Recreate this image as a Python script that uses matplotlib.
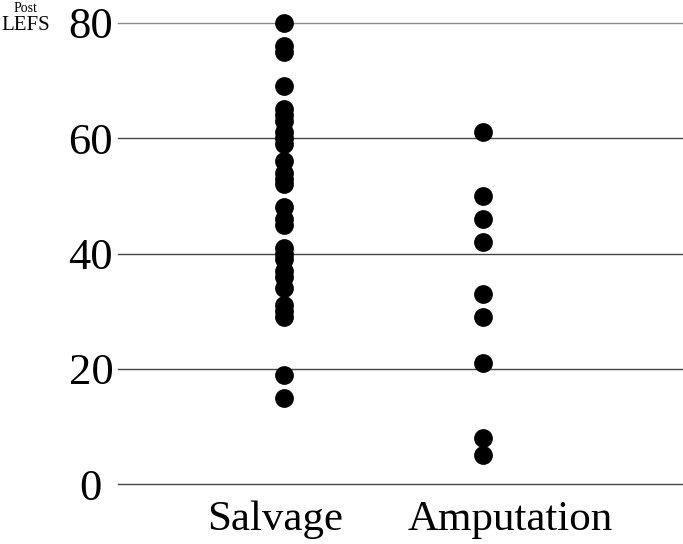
import numpy as np
import matplotlib.pyplot as plt
import matplotlib.transforms as mtransforms

groups = ['Salvage', 'Amputation']
salvage = [80, 76, 75, 69, 65, 64, 63, 61, 60, 59, 56, 54, 53, 52,
           48, 46, 45, 41, 40, 39, 37, 36, 34, 31, 30, 29, 19, 15]
amputation = [61, 50, 46, 42, 33, 29, 21, 8, 5]
yticks = [0, 20, 40, 60, 80]

plt.rcParams['font.family'] = ['Liberation Serif', 'DejaVu Serif']

fig = plt.figure(figsize=(6.83, 5.44), dpi=100)
ax = fig.add_axes([118 / 683, 60 / 544, 564 / 683, 461 / 544])

for i, vals in enumerate([salvage, amputation]):
    ax.plot(np.full(len(vals), i + 1), vals, 'o', color='black',
            markersize=12.5, clip_on=False, zorder=3)

ax.set_ylim(0, 80)
ax.set_xlim(0.165, 3.0)
ax.set_yticks(yticks)
ax.set_yticklabels([str(v) for v in yticks], fontsize=32)
ax.set_xticks([1, 2])
ax.set_xticklabels(groups, fontsize=31)
ax.tick_params(length=0)
ax.tick_params(axis='y', pad=19.5)
ax.tick_params(axis='x', pad=12)
for lab in ax.get_yticklabels():
    lab.set_horizontalalignment('center')
for lab, dx in zip(ax.get_xticklabels(), [-9, 27]):
    lab.set_transform(lab.get_transform() +
                      mtransforms.ScaledTranslation(dx / 100, 0, fig.dpi_scale_trans))

ax.grid(axis='y', color='#444444', linewidth=1.0)
gl = ax.get_ygridlines()
for line in gl:
    line.set_clip_on(False)
gl[-1].set_color('#8a8a8a')
ax.set_axisbelow(True)
for s in ax.spines.values():
    s.set_visible(False)

fig.text(25 / 683, 1 - 8 / 544, 'Post', fontsize=10, ha='center', va='center')
fig.text(26 / 683, 1 - 25 / 544, 'LEFS', fontsize=15, ha='center', va='center')

fig.savefig('out.png', dpi=100)
